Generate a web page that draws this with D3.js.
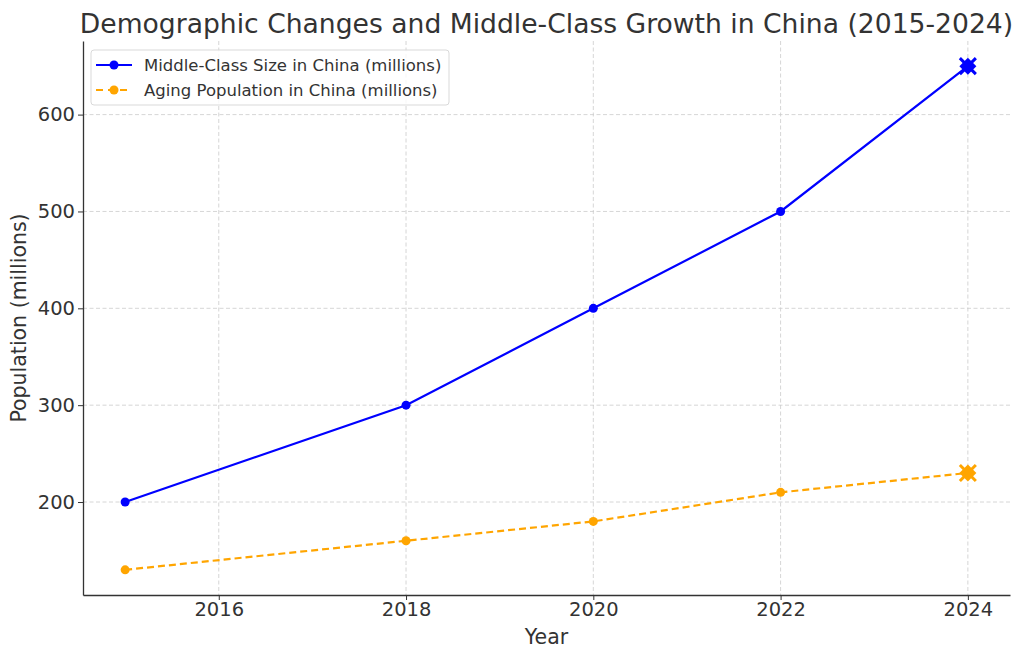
<!DOCTYPE html>
<html>
<head>
<meta charset="utf-8">
<script src="https://cdn.jsdelivr.net/npm/d3@7"></script>
<style>
  html, body { margin: 0; padding: 0; background: #fff; }
  text { font-family: "DejaVu Sans", sans-serif; fill: #333; }
</style>
</head>
<body>
<div id="chart"></div>
<script>
const years = [2015, 2018, 2020, 2022, 2024];
const middleClass = [200, 300, 400, 500, 650];
const aging = [130, 160, 180, 210, 230];
const xTicks = [2016, 2018, 2020, 2022, 2024];
const yTicks = [200, 300, 400, 500, 600];
const highlightYear = 2024;

const width = 1024, height = 659;
const margin = { top: 41, right: 14, bottom: 64, left: 83 };
const plotWidth = width - margin.left - margin.right;
const plotHeight = height - margin.top - margin.bottom;

const svg = d3.select("#chart").append("svg")
    .attr("width", width)
    .attr("height", height);

// 5% padding like matplotlib autoscale
const xPad = (d3.max(years) - d3.min(years)) * 0.05;
const x = d3.scaleLinear()
    .domain([d3.min(years) - xPad, d3.max(years) + xPad])
    .range([0, plotWidth]);

const allY = middleClass.concat(aging);
const yPad = (d3.max(allY) - d3.min(allY)) * 0.05;
const y = d3.scaleLinear()
    .domain([d3.min(allY) - yPad, d3.max(allY) + yPad])
    .range([plotHeight, 0]);

const plot = svg.append("g")
    .attr("transform", "translate(" + margin.left + "," + margin.top + ")");

// grid
plot.append("g").selectAll("line")
    .data(xTicks).enter().append("line")
    .attr("x1", d => x(d)).attr("x2", d => x(d))
    .attr("y1", 0).attr("y2", plotHeight)
    .attr("stroke", "#cccccc").attr("stroke-width", 0.8)
    .attr("stroke-dasharray", "4,2.5");
plot.append("g").selectAll("line")
    .data(yTicks).enter().append("line")
    .attr("x1", 0).attr("x2", plotWidth)
    .attr("y1", d => y(d)).attr("y2", d => y(d))
    .attr("stroke", "#cccccc").attr("stroke-width", 0.8)
    .attr("stroke-dasharray", "4,2.5");

// axes
const xAxis = plot.append("g")
    .attr("transform", "translate(0," + plotHeight + ")")
    .call(d3.axisBottom(x).tickValues(xTicks).tickFormat(d3.format("d")).tickSize(5).tickSizeOuter(0).tickPadding(2));
const yAxis = plot.append("g")
    .call(d3.axisLeft(y).tickValues(yTicks).tickSize(5).tickSizeOuter(0).tickPadding(3));

[xAxis, yAxis].forEach(a => {
    a.select(".domain").attr("stroke", "#333").attr("stroke-width", 1.3);
    a.selectAll(".tick line").attr("stroke", "#333").attr("stroke-width", 1);
    a.selectAll(".tick text").attr("font-size", 19.5).attr("font-family", "DejaVu Sans").attr("fill", "#333");
});

// axis labels
svg.append("text")
    .attr("x", margin.left + plotWidth / 2)
    .attr("y", 644)
    .attr("text-anchor", "middle")
    .attr("font-size", 20.5)
    .text("Year");
svg.append("text")
    .attr("transform", "translate(26," + (margin.top + plotHeight / 2) + ") rotate(-90)")
    .attr("text-anchor", "middle")
    .attr("font-size", 20.5)
    .text("Population (millions)");

// title
svg.append("text")
    .attr("x", margin.left + plotWidth / 2)
    .attr("y", 33)
    .attr("text-anchor", "middle")
    .attr("font-size", 26.6)
    .text("Demographic Changes and Middle-Class Growth in China (2015-2024)");

const series = [
    { name: "Middle-Class Size in China (millions)", values: middleClass, color: "#0000ff", dash: null },
    { name: "Aging Population in China (millions)", values: aging, color: "#ffa500", dash: "7,4" }
];

const line = d3.line()
    .x(d => x(d.year))
    .y(d => y(d.value));

series.forEach(s => {
    const pts = years.map((yr, i) => ({ year: yr, value: s.values[i] }));
    plot.append("path")
        .datum(pts)
        .attr("fill", "none")
        .attr("stroke", s.color)
        .attr("stroke-width", 2.2)
        .attr("stroke-dasharray", s.dash)
        .attr("d", line);
    plot.append("g").selectAll("circle")
        .data(pts).enter().append("circle")
        .attr("cx", d => x(d.year))
        .attr("cy", d => y(d.value))
        .attr("r", 4.5)
        .attr("fill", s.color);
    // highlight last point with an X marker
    const hl = pts.filter(d => d.year === highlightYear);
    const g = plot.append("g").selectAll("g")
        .data(hl).enter().append("g")
        .attr("transform", d => "translate(" + x(d.year) + "," + y(d.value) + ")");
    g.append("path")
        .attr("d", "M-8,-8L8,8M-8,8L8,-8")
        .attr("stroke", s.color)
        .attr("stroke-width", 3);
    g.append("rect")
        .attr("x", -6).attr("y", -6)
        .attr("width", 12).attr("height", 12)
        .attr("transform", "rotate(45)")
        .attr("fill", s.color);
});

// legend
const legend = svg.append("g").attr("transform", "translate(91,50)");
legend.append("rect")
    .attr("width", 358).attr("height", 55)
    .attr("rx", 3)
    .attr("fill", "#fff").attr("fill-opacity", 0.8)
    .attr("stroke", "#d9d9d9").attr("stroke-width", 1);
series.forEach((s, i) => {
    const ly = 15 + i * 25;
    legend.append("line")
        .attr("x1", 5).attr("x2", 41)
        .attr("y1", ly).attr("y2", ly)
        .attr("stroke", s.color).attr("stroke-width", 2.2)
        .attr("stroke-dasharray", s.dash ? "7,5" : null);
    legend.append("circle")
        .attr("cx", 23).attr("cy", ly).attr("r", 4.5)
        .attr("fill", s.color);
    legend.append("text")
        .attr("x", 53).attr("y", ly + 6)
        .attr("font-size", 16.5)
        .text(s.name);
});
</script>
</body>
</html>
